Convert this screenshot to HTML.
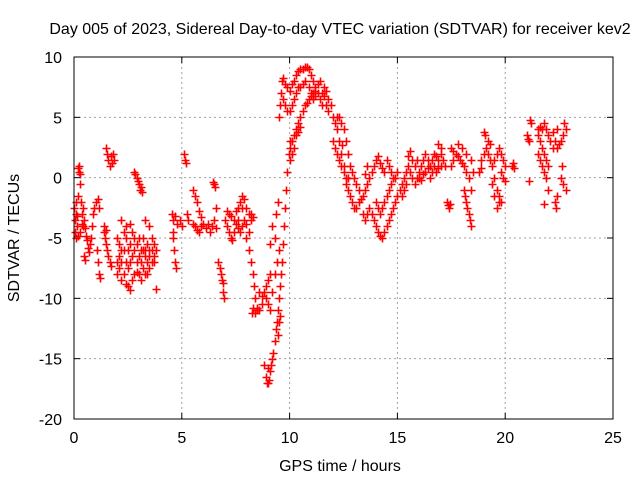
<!DOCTYPE html>
<html><head><meta charset="utf-8"><style>
body{margin:0;background:#fff}
svg{display:block;font-family:"Liberation Sans",sans-serif}
</style></head><body>
<svg id="chart" width="640" height="480" xmlns="http://www.w3.org/2000/svg">
<rect width="640" height="480" fill="#fff"/>
<text x="340" y="34" font-size="16" text-anchor="middle">Day 005 of 2023, Sidereal Day-to-day VTEC variation (SDTVAR) for receiver kev2</text>
<g id="grid"></g><g id="ticks"></g><g id="marks"></g>
<rect x="74" y="57" width="539" height="362" fill="none" stroke="#000" stroke-width="1"/>
<text x="340" y="471" font-size="16" text-anchor="middle">GPS time / hours</text>
<text transform="translate(19,238) rotate(-90)" font-size="16" text-anchor="middle">SDTVAR / TECUs</text>
</svg>
<script>
const xTicks=[0,5,10,15,20,25];
const yTicks=[-20,-15,-10,-5,0,5,10];
const points=[
[0,-2.5],[0.03,-3.5],[0.05,-4.5],[0.08,-3],[0.1,-2],[0.12,-4],[0.15,-3.2],[0.18,-1.5],[0.2,0.8],[0.22,0.5],[0.25,1],[0.28,0.3],[0.3,-0.5],[0.32,-2],[0.35,-3],[0.38,-3.8],[0.4,-2.5],[0.42,-4],[0.45,-3.5],[0.5,-4.2],[0.55,-4.8],[0.6,-5.2],[0.65,-5.8],[0.7,-6.2],[0.75,-5.5],[0.8,-5],[0.85,-4],[0.9,-3],[0.95,-2.5],[1.0,-2],[0.3,-4.5],[0.2,-4.8],[0.1,-5],[0.45,-6.5],[0.5,-6.8],
[1.05,-6],[1.1,-7],[1.15,-8],[1.2,-8.3],[1.12,-1.8],[1.15,-2.5],
[1.4,-4],[1.45,-5],[1.5,-5.5],[1.55,-6],[1.6,-6.5],[1.65,-7],[1.7,-7.3],[1.5,2.5],[1.55,2],[1.6,1.5],[1.65,1],[1.7,1.8],[1.75,1.2],[1.8,2],[1.85,1.5],[1.4,-4.5],[1.5,-4.3],
[2.0,-5],[2.0,-7],[2.0,-8],[2.1,-5.5],[2.1,-6.5],[2.1,-7.5],[2.2,-6],[2.2,-7],[2.2,-8.5],[2.3,-4.5],[2.3,-6],[2.3,-8],[2.4,-5],[2.4,-7],[2.4,-8.8],[2.5,-6],[2.5,-7.5],[2.5,-9],[2.6,-5.5],[2.6,-7],[2.6,-9.3],[2.7,-4.5],[2.7,-6.5],[2.7,-8.5],[2.8,-5],[2.8,-6],[2.8,-8],[2.9,-5.5],[2.9,-7],[2.9,-7.8],[3.0,-5],[3.0,-6.5],[3.0,-8],[3.1,-6],[3.1,-7],[3.1,-8.5],[3.2,-5],[3.2,-6],[3.2,-7.5],[3.3,-6],[3.3,-6.5],[3.3,-8],[3.4,-5.5],[3.4,-7],[3.4,-8],[3.5,-6],[3.5,-6.5],[3.5,-7.5],[3.6,-5],[3.6,-6],[3.6,-7],[3.7,-5.5],[3.7,-6.5],[3.7,-7],[3.8,-6],[3.8,-9.2],
[2.8,0.5],[2.85,0.3],[2.9,0],[2.95,-0.3],[3.0,-0.5],[3.05,-1],[3.1,-0.8],[3.15,-1.2],[2.2,-3.5],[2.4,-4],[2.6,-3.8],[3.3,-3.5],[3.5,-4],
[4.55,-3],[4.6,-3.5],[4.7,-3.2],[4.8,-3.8],[4.9,-3.5],[5.0,-4],[4.6,-5],[4.65,-6],[4.7,-7],[4.75,-7.5],[4.6,-4.5],
[5.1,2],[5.15,1.5],[5.2,1.2],[5.25,-3],[5.3,-3.5],
[5.5,-1],[5.6,-1.5],[5.7,-2],[5.8,-2.8],[5.9,-3.3],[6.0,-3.8],[5.5,-3.8],[5.6,-4],[5.7,-4.3],[5.8,-4.5],[5.9,-4],[6.1,-4.2],[6.2,-3.8],[6.3,-4.5],[6.4,-4],[6.5,-3.5],[6.6,-2.5],[6.5,-0.5],[6.55,-0.8],[6.45,-0.4],[6.6,-4.2],
[6.7,-7],[6.75,-7.5],[6.8,-8],[6.85,-8.5],[6.9,-9.5],[6.95,-10],[6.9,-8.7],
[7.0,-3.5],[7.1,-4],[7.2,-4.5],[7.3,-5],[7.35,-5.2],[7.1,-2.8],[7.2,-3],[7.3,-3.2],[7.4,-3.5],[7.5,-2.8],[7.6,-2.5],[7.7,-2],[7.8,-1.5],[7.9,-1.8],[8.0,-2.5],[8.1,-3],[8.2,-3.5],[7.5,-3.8],[7.6,-4.2],[7.7,-4.5],[7.8,-4],[7.9,-3.5],[8.0,-3.8],[8.1,-4.5],[8.2,-3],[8.3,-3.3],[7.4,-4.5],[7.6,-3.5],[7.8,-2.5],
[8.0,-5],[8.1,-6],[8.2,-7],[8.3,-8],[8.35,-9],[8.4,-10],[8.5,-10.8],[8.6,-11],[8.7,-10.5],[8.8,-9.5],[8.9,-9],[9.0,-8.5],[9.1,-8],[8.6,-9.5],[8.7,-9.8],[8.4,-11.2],[8.5,-11],[8.25,-11.2],[8.3,-10.8],[8.9,-10],[9.0,-10.5],[9.1,-11],[9.2,-9.5],[9.3,-8],[9.4,-7],[9.5,-6],[9.3,-5],[9.2,-4],[9.1,-5.5],[9.35,-3],[9.45,-2],
[8.8,-15.5],[8.9,-16.5],[9.0,-17],[9.05,-16.8],[9.1,-16],[9.15,-15.5],[9.2,-15],[9.25,-14.5],[9.3,-13.5],[9.35,-12.5],[9.4,-12],[9.45,-11],[9.5,-10],[9.55,-9],[9.6,-8],[9.65,-7],[9.7,-5.5],[9.75,-4],[9.8,-2.5],[9.85,-1],[9.9,0.5],[9.95,2],[10.0,3],[9.0,-15.8],[8.95,-17],[9.45,-13],[9.5,-12],[9.55,-11.5],
[9.5,5],[9.55,6],[9.6,7],[9.65,8],[9.7,8.3],[9.8,7.8],[9.9,7.5],[10.0,7.2],[10.1,7.8],[10.2,8],[10.3,8.5],[10.4,8.8],[10.5,9],[10.6,9],[10.7,9.2],[10.8,9.2],[10.9,9],[11.0,8.5],[11.1,8],[11.2,7.5],[11.3,7.8],[11.4,8],[11.5,7],[11.6,7.5],[11.7,7.2],[11.8,6.5],[11.9,6],[9.7,6.5],[9.8,6],[9.9,5.5],[10.0,5.5],[10.1,6],[10.2,6.5],[10.3,7],[10.4,7.5],[10.5,7.5],[10.6,7.8],[10.7,8],[10.9,7.5],[11.0,7],[11.1,6.5],[11.2,6.8],[11.3,7],[11.4,6.5],[11.5,6],[11.6,6.8],[11.7,6],[11.8,5.5],
[10.0,2.5],[10.1,3],[10.2,3.5],[10.3,4],[10.4,4.5],[10.5,5],[10.6,5.5],[10.7,6],[10.8,6.2],[10.9,6.5],[11.0,6.8],[11.1,7],[11.2,7.2],[10.0,1.5],[10.1,2],[10.2,2.5],[10.3,3.5],[10.4,3.8],[10.5,4.2],
[12.0,5],[12.1,4.5],[12.2,4],[12.3,3],[12.4,2],[12.5,1],[12.6,0],[12.7,-1],[12.8,-1.5],[12.9,-2],[13.0,-2.5],[13.1,-2.5],[13.2,-2],[13.3,-1.8],[12.0,3],[12.1,2.5],[12.2,2],[12.3,1.5],[12.4,1],[12.5,0.5],[12.6,-0.5],[12.7,0],[12.2,5],[12.3,5],[12.4,4.5],[12.5,4],[12.6,3],[12.7,2],[12.8,1],[12.9,0.5],[13.0,0],[13.1,-0.5],[13.2,-1],[12.45,2.7],
[13.4,-1.5],[13.5,-1],[13.6,-0.5],[13.7,0],[13.8,0.5],[13.9,1],[14.0,1.5],[14.1,1.8],[14.2,1.2],[14.3,0.8],[14.4,0.5],[13.4,-3],[13.5,-3.5],[13.6,-3],[13.7,-2.5],[13.8,-3],[13.9,-3.5],[14.0,-4],[14.1,-4.5],[14.2,-4.8],[14.3,-5],[14.4,-4.5],[14.5,-4],[14.6,-3.5],[14.7,-3],[14.8,-2.5],[14.9,-2],[15.0,-1.5],[14.0,-2],[14.1,-2.5],[14.2,-3],[14.3,-2.5],[14.4,-2],[14.5,-1.5],[14.6,-1],[14.7,-0.5],[14.8,0],[14.9,0],[15.0,0.5],[13.5,0.3],[13.6,1],[14.5,1.5],[14.6,1],[14.7,0.5],
[15.1,-1],[15.2,-0.5],[15.3,0],[15.4,0.5],[15.5,1],[15.6,0.5],[15.7,0],[15.8,-0.5],[15.9,0],[16.0,0.5],[16.1,1],[16.2,1.5],[16.3,2],[16.4,1.5],[16.5,1],[16.6,1.5],[16.7,2],[16.8,1.8],[16.9,1.5],[17.0,2],[17.1,1.5],[17.2,1],[15.5,1.8],[15.6,2.2],[15.7,1.5],[15.8,1],[15.9,1.5],[16.0,0],[16.1,-0.2],[16.2,0.3],[16.3,0.5],[16.4,0.8],[16.5,0],[16.6,0.5],[16.7,1],[16.8,0.5],[16.9,0.8],[17.0,1],[15.2,-1.5],[15.3,-1],[15.4,-0.5],[16.9,2.8],[17.0,2.5],
[17.3,-2],[17.35,-2.3],[17.4,-2.5],[17.45,-2.2],
[17.5,1],[17.6,1.5],[17.7,2],[17.8,1.8],[17.9,1.5],[18.0,1.2],[18.1,1],[18.2,0.5],[18.3,0],[18.4,-1],[18.5,0.5],[17.5,2.5],[17.6,2.2],[17.8,2.8],[18.0,2.5],[18.2,2],[18.4,1.5],[18.1,-1],[18.15,-1.5],[18.2,-2],[18.25,-2.5],[18.3,-3],[18.35,-3.5],[18.4,-4],
[18.9,1.5],[19.0,2],[19.1,2.5],[19.2,2],[19.3,1.5],[19.4,1],[19.5,0],[19.6,-1],[19.7,-1.5],[19.8,-2],[19.5,1.5],[19.6,2],[19.7,2.5],[19.8,2],[19.9,1.5],[20.0,1],[19.0,3.8],[19.05,3.5],[19.2,3],[19.3,2.8],[19.4,-0.5],[19.5,-1.5],[19.6,-2.5],[19.7,-2],[19.8,0.5],[19.9,0],[20.0,-0.3],[18.8,0.5],[18.9,0.8],
[20.3,1],[20.35,1.2],[20.4,0.8],
[21.0,3.5],[21.05,3.2],[21.1,3],[21.15,4.8],[21.2,4.5],[21.1,-0.3],[21.5,3.5],[21.6,3],[21.7,2.5],[21.8,2],[21.9,1.5],[22.0,1],[21.5,4],[21.6,4.2],[21.7,4],[21.8,4.5],[21.9,4],[22.0,3.5],[21.5,2],[21.6,1.5],[21.7,1],[21.8,0.5],[21.9,0],[22.0,-1],[21.8,-2.2],[22.1,3],[22.2,2.5],[22.3,3],[22.4,2.5],[22.5,2.8],[22.6,3],[22.7,3.5],[22.8,4],[22.75,4.5],[22.3,-2],[22.35,-2.5],[22.4,-1.5],[22.6,0],[22.7,-0.5],[22.8,-1],[22.65,1],[22.4,4],[22.2,3.8]
];
const NS='http://www.w3.org/2000/svg';
const X0=74,X1=613,Y0=419,Y1=57;
function sx(t){return X0+(t-0)/(25-0)*(X1-X0);}
function sy(v){return Y0-(v+20)/(30)*(Y0-Y1);}
const grid=document.getElementById('grid'),ticks=document.getElementById('ticks'),marks=document.getElementById('marks');
function mk(tag,attrs,parent){const e=document.createElementNS(NS,tag);for(const k in attrs)e.setAttribute(k,attrs[k]);parent.appendChild(e);return e;}
xTicks.forEach(t=>{
  const x=sx(t);
  if(t>0&&t<25){const g=mk('line',{x1:x,x2:x,y1:Y1,y2:Y0,stroke:'#a0a0a0','stroke-dasharray':'2,3'},grid);
  
  }
  const l=mk('line',{x1:x,x2:x,y1:Y0,y2:Y0-6,stroke:'#000'},ticks);
  
  
  mk('line',{x1:x,x2:x,y1:Y1,y2:Y1+6,stroke:'#000'},ticks);
  const tx=mk('text',{x:x,y:443,'font-size':16,'text-anchor':'middle'},ticks);tx.textContent=t;
  
  
});
yTicks.forEach(v=>{
  const y=sy(v);
  if(v>-20&&v<10){const g=mk('line',{x1:X0,x2:X1,y1:y,y2:y,stroke:'#a0a0a0','stroke-dasharray':'2,3'},grid);
  
  }
  const l=mk('line',{x1:X0,x2:X0+6,y1:y,y2:y,stroke:'#000'},ticks);
  
  
  mk('line',{x1:X1,x2:X1-6,y1:y,y2:y,stroke:'#000'},ticks);
  const tx=mk('text',{x:62,y:y+6,'font-size':16,'text-anchor':'end'},ticks);tx.textContent=v;
  
  
});
points.forEach(p=>{
  const x=Math.round(sx(p[0]))+0.5,y=Math.round(sy(p[1]))+0.5;
  const m=mk('path',{d:`M${x-4},${y}H${x+4}M${x},${y-4}V${y+4}`,stroke:'#ff0000','stroke-width':1.6,fill:'none'},marks);
  
  
});
</script>
</body></html>
